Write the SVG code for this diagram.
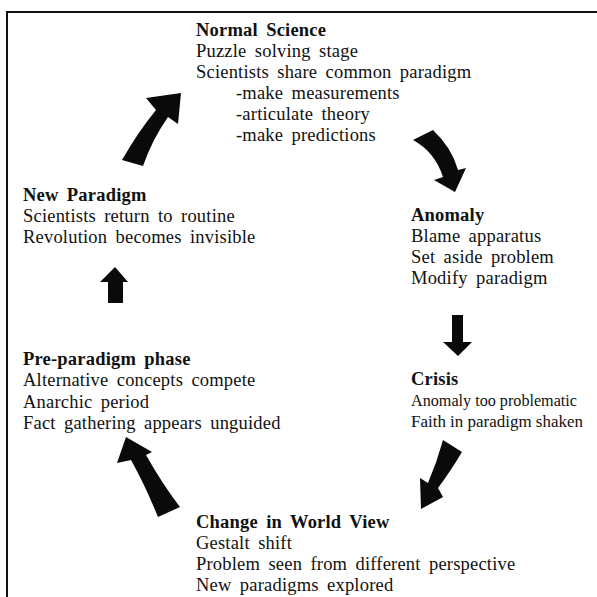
<svg xmlns="http://www.w3.org/2000/svg" width="597" height="597" viewBox="0 0 597 597">
<style>
text{font-family:"Liberation Serif","Times New Roman",serif;font-size:18.5px;fill:#111;letter-spacing:0.2px;word-spacing:3.5px}
.h{font-weight:bold;letter-spacing:0.2px}
.c{font-size:16.5px;letter-spacing:0;word-spacing:0}
.arr{fill:#0a0a0a}
</style>
<rect width="597" height="597" fill="#fff"/>
<path d="M7,597 V12 H597" fill="none" stroke="#111" stroke-width="2"/>
<g id="normal-science">
<text x="196" y="36" class="h">Normal Science</text>
<text x="196" y="57">Puzzle solving stage</text>
<text x="196" y="78">Scientists share common paradigm</text>
<text x="236" y="99">-make measurements</text>
<text x="236" y="120">-articulate theory</text>
<text x="236" y="141">-make predictions</text>
</g>
<g id="anomaly">
<text x="411" y="221" class="h">Anomaly</text>
<text x="411" y="242">Blame apparatus</text>
<text x="411" y="263">Set aside problem</text>
<text x="411" y="284">Modify paradigm</text>
</g>
<g id="crisis">
<text x="411" y="385" class="h">Crisis</text>
<text x="411" y="406" class="c" textLength="166" lengthAdjust="spacingAndGlyphs">Anomaly too problematic</text>
<text x="411" y="427" class="c" textLength="172" lengthAdjust="spacingAndGlyphs">Faith in paradigm shaken</text>
</g>
<g id="change-in-world-view">
<text x="196" y="528" class="h">Change in World View</text>
<text x="196" y="549">Gestalt shift</text>
<text x="196" y="570">Problem seen from different perspective</text>
<text x="196" y="591">New paradigms explored</text>
</g>
<g id="pre-paradigm-phase">
<text x="23" y="365" class="h">Pre-paradigm phase</text>
<text x="23" y="386">Alternative concepts compete</text>
<text x="23" y="408">Anarchic period</text>
<text x="23" y="429">Fact gathering appears unguided</text>
</g>
<g id="new-paradigm">
<text x="23" y="201" class="h">New Paradigm</text>
<text x="23" y="222">Scientists return to routine</text>
<text x="23" y="243">Revolution becomes invisible</text>
</g>
<g id="connectors" class="arr">
<path d="M122,160 Q138,132 156,110 L146,98 L181,93 L178,124 L168,117 Q152,140 143,166 Z"/>
<path d="M413,140 L433,130 Q452,148 458,170 L466,168 L455,192 L434,180 L443,177 Q435,152 413,140 Z"/>
<path d="M452,315 L463,315 L463,342 L472,342 L458,356 L443,342 L452,342 Z"/>
<path d="M443,440 L462,452 Q450,472 438,488 L443,497 L421,509 L420,478 L428,483 Q437,462 443,440 Z"/>
<path d="M158,517 Q145,485 131,460 L117,463 L126,437 L152,452 L146,455 Q163,485 180,507 Z"/>
<path d="M108,303 L123,303 L123,282 L128,282 L115,267 L100,282 L108,282 Z"/>
</g>
</svg>
